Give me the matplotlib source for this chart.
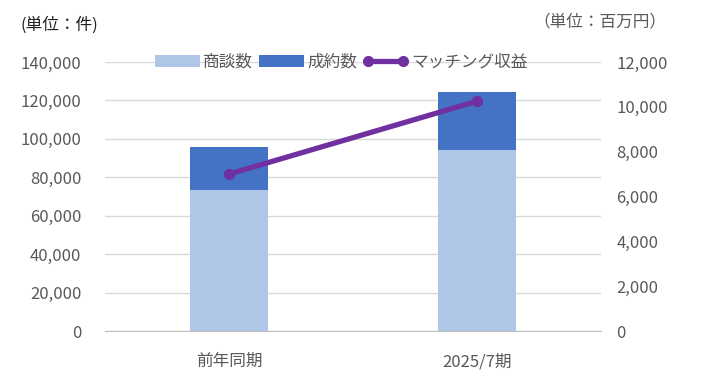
import matplotlib.pyplot as plt
import numpy as np

plt.rcParams['font.family'] = ['Noto Sans CJK JP', 'DejaVu Sans']

categories = ['前年同期', '2025/7期']
shodan = [73400, 94200]       # 商談数
seiyaku = [22400, 30200]      # 成約数 (stacked on top)
revenue = [7000, 10250]       # マッチング収益 (百万円)

light = '#AFC6E6'
dark = '#4472C4'
purple = '#7030A0'
txt = '#595959'
grid = '#D9D9D9'

fig = plt.figure(figsize=(7.06, 3.92), dpi=100)
ax = fig.add_axes([105 / 706, 1 - 331 / 392, 496 / 706, 269 / 392])
x = np.arange(len(categories))

ax.bar(x, shodan, width=0.315, color=light, label='商談数', zorder=2)
ax.bar(x, seiyaku, width=0.315, bottom=shodan, color=dark, label='成約数', zorder=2)

ax.set_xlim(-0.5, 1.5)
ax.set_ylim(0, 140000)
ax.set_yticks(np.arange(0, 140001, 20000))
ax.yaxis.set_major_formatter(plt.FuncFormatter(lambda v, p: f'{int(v):,}'))
ax.set_xticks(x)
ax.set_xticklabels(categories)
ax.grid(axis='y', color=grid, linewidth=1, zorder=0)
for s in ['top', 'right', 'left']:
    ax.spines[s].set_visible(False)
ax.spines['bottom'].set_color('#BFBFBF')
ax.tick_params(axis='both', length=0, colors=txt, labelsize=12)
ax.tick_params(axis='y', pad=17)
ax.tick_params(axis='x', pad=16)

ax2 = ax.twinx()
ax2.plot(x, revenue, color=purple, linewidth=3.8, marker='o', markersize=7,
         label='マッチング収益', zorder=3, solid_capstyle='round')
ax2.set_ylim(0, 12000)
ax2.set_yticks(np.arange(0, 12001, 2000))
ax2.yaxis.set_major_formatter(plt.FuncFormatter(lambda v, p: f'{int(v):,}'))
for s in ['top', 'right', 'left', 'bottom']:
    ax2.spines[s].set_visible(False)
ax2.tick_params(axis='y', length=0, colors=txt, labelsize=12, pad=11)

h1, l1 = ax.get_legend_handles_labels()
h2, l2 = ax2.get_legend_handles_labels()
leg = ax.legend(h1 + h2, l1 + l2, loc='center', bbox_to_anchor=(0.476, 1.0),
                ncol=3, frameon=False, fontsize=12, handlelength=2.7,
                handletextpad=0.2, columnspacing=0.35, labelcolor=txt,
                numpoints=2)
leg.set_zorder(5)

fig.text(20 / 706, 1 - 25 / 392, '(単位：件)', fontsize=12, color='#222222', va='center')
fig.text(666 / 706, 1 - 22 / 392, '（単位：百万円）', fontsize=12, color=txt,
         va='center', ha='right')

fig.savefig('out.png', dpi=100)
